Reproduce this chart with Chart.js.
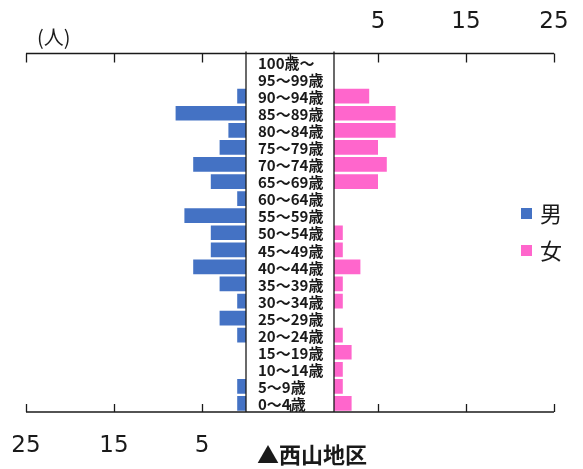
<!DOCTYPE html>
<html lang="ja">
<head>
<meta charset="utf-8">
<title>西山地区 人口ピラミッド</title>
<script src="https://cdn.jsdelivr.net/npm/chart.js@4/dist/chart.umd.min.js"></script>
<style>
  html, body { margin: 0; padding: 0; background: #ffffff; }
  #wrap { width: 583px; height: 469px; }
</style>
</head>
<body>
<div id="wrap"><canvas id="pyramid" width="583" height="469"></canvas></div>
<script>
// Age groups, oldest at the top
const ageGroups = [
  '100歳～', '95～99歳', '90～94歳', '85～89歳', '80～84歳', '75～79歳',
  '70～74歳', '65～69歳', '60～64歳', '55～59歳', '50～54歳', '45～49歳',
  '40～44歳', '35～39歳', '30～34歳', '25～29歳', '20～24歳', '15～19歳',
  '10～14歳', '5～9歳', '0～4歳'
];
// Head counts per age group (人)
const maleCounts   = [0, 0, 1, 8, 2, 3, 6, 4, 1, 7, 4, 4, 6, 3, 1, 3, 1, 0, 0, 1, 1];
const femaleCounts = [0, 0, 4, 7, 7, 5, 6, 5, 0, 0, 1, 1, 3, 1, 1, 0, 1, 2, 1, 1, 2];
// Tick labels of the two value axes
const maleTicks   = [25, 15, 5];
const femaleTicks = [5, 15, 25];

const seriesNames = ['男', '女'];
const seriesColors = ['#4472C4', '#FF66CC'];

// The central label column is 2*HALF_GAP axis units wide; each side runs to AXIS_MAX.
const HALF_GAP = 5;
const AXIS_MAX = 25;
const SPAN = AXIS_MAX + HALF_GAP;

const JP = '"Noto Sans CJK JP", "Noto Sans", sans-serif';
const NUM = '"DejaVu Sans", Verdana, sans-serif';
const INK = '#1a1a1a';

const tickFont = { family: NUM, size: 23 };
const AXIS_BAND = 48;   // height reserved for each value axis' labels

function line(ctx, x1, y1, x2, y2) {
  ctx.beginPath();
  ctx.moveTo(x1, y1);
  ctx.lineTo(x2, y2);
  ctx.stroke();
}

// keep the plot edges exactly on the layout padding
function fixAxisBand(s) {
  s.height = AXIS_BAND;
  s.paddingLeft = 0;
  s.paddingRight = 0;
}

// Axis frame, label column, age labels, unit, legend and caption
const pyramidFrame = {
  id: 'pyramidFrame',
  afterDatasetsDraw(chart) {
    const { ctx, chartArea, scales } = chart;
    const { top, bottom } = chartArea;
    const x = scales.x, y = scales.y;
    ctx.save();
    ctx.strokeStyle = INK;
    ctx.lineWidth = 1.3;

    const xl = x.getPixelForValue(-SPAN);
    const xr = x.getPixelForValue(SPAN);
    line(ctx, xl, top, xr, top);
    line(ctx, xl, bottom, xr, bottom);

    // inward tick marks every 10 units
    for (let v = -SPAN; v <= SPAN; v += 10) {
      const px = Math.round(x.getPixelForValue(v)) + 0.5;
      line(ctx, px, top, px, top + 9);
      line(ctx, px, bottom, px, bottom - 8);
    }

    // borders of the central label column
    [-HALF_GAP, HALF_GAP].forEach(v => {
      const px = x.getPixelForValue(v);
      line(ctx, px, top - 2, px, bottom);
    });

    // age group labels
    const colLeft = x.getPixelForValue(-HALF_GAP);
    ctx.fillStyle = INK;
    ctx.font = 'bold 15px ' + JP;
    ctx.textAlign = 'left';
    ctx.textBaseline = 'middle';
    ageGroups.forEach((label, i) => {
      ctx.fillText(label, colLeft + 12, y.getPixelForValue(i) + 1);
    });

    // unit
    ctx.font = '20px ' + JP;
    ctx.fillText('(人)', 37, top - 16);

    // legend
    ctx.font = '22px ' + JP;
    chart.data.datasets.forEach((ds, i) => {
      const cy = 213.5 + i * 37;
      ctx.fillStyle = ds.backgroundColor;
      ctx.fillRect(521, cy - 5.5, 11, 11);
      ctx.fillStyle = INK;
      ctx.fillText(ds.label, 540, cy);
    });

    // caption
    ctx.font = 'bold 22px ' + JP;
    ctx.fillText('▲西山地区', colLeft + 11, 455);
    ctx.restore();
  }
};

new Chart(document.getElementById('pyramid'), {
  type: 'bar',
  data: {
    labels: ageGroups,
    datasets: [
      {
        label: seriesNames[0],
        data: maleCounts.map(v => [-HALF_GAP - v, -HALF_GAP]),
        backgroundColor: seriesColors[0],
        borderWidth: 0
      },
      {
        label: seriesNames[1],
        data: femaleCounts.map(v => [HALF_GAP, HALF_GAP + v]),
        backgroundColor: seriesColors[1],
        borderWidth: 0
      }
    ]
  },
  options: {
    indexAxis: 'y',
    responsive: false,
    animation: false,
    devicePixelRatio: 1,
    layout: { padding: { top: 5.5, bottom: 9, left: 26, right: 29 } },
    datasets: {
      bar: { grouped: false, categoryPercentage: 1, barPercentage: 0.86 }
    },
    plugins: {
      legend: { display: false },
      tooltip: { enabled: false },
      title: { display: false }
    },
    scales: {
      y: {
        type: 'category',
        display: false,
        offset: true
      },
      x: {
        type: 'linear',
        position: 'bottom',
        min: -SPAN,
        max: SPAN,
        grid: { display: false, drawTicks: false },
        border: { display: false },
        afterBuildTicks: s => { s.ticks = maleTicks.map(v => ({ value: -(v + HALF_GAP) })); },
        afterFit: fixAxisBand,
        ticks: {
          autoSkip: false,
          maxRotation: 0,
          padding: 20,
          color: INK,
          font: tickFont,
          callback: v => String(Math.abs(v) - HALF_GAP)
        }
      },
      x2: {
        axis: 'x',
        type: 'linear',
        position: 'top',
        min: -SPAN,
        max: SPAN,
        grid: { display: false, drawTicks: false },
        border: { display: false },
        afterBuildTicks: s => { s.ticks = femaleTicks.map(v => ({ value: v + HALF_GAP })); },
        afterFit: fixAxisBand,
        ticks: {
          autoSkip: false,
          maxRotation: 0,
          padding: 18,
          color: INK,
          font: tickFont,
          callback: v => String(Math.abs(v) - HALF_GAP)
        }
      }
    }
  },
  plugins: [pyramidFrame]
});
</script>
</body>
</html>
